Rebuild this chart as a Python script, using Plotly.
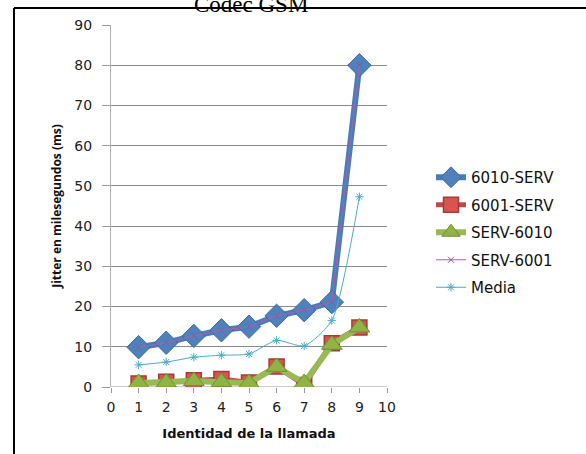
import plotly.graph_objects as go

# Call identifiers and jitter (ms) per direction
llamadas = [1, 2, 3, 4, 5, 6, 7, 8, 9]
s_6010_serv = [9.9, 11.0, 12.7, 14.1, 15.0, 17.7, 19.1, 21.1, 80.0]
s_6001_serv = [0.9, 1.3, 1.7, 2.0, 1.1, 5.1, 0.5, 10.9, 14.8]
s_serv_6010 = [1.0, 1.1, 1.5, 1.2, 1.0, 5.0, 1.0, 10.5, 14.8]
s_serv_6001 = [9.9, 11.0, 12.7, 14.1, 15.0, 17.7, 19.1, 21.1, 80.0]
s_media = [5.5, 6.2, 7.4, 7.9, 8.2, 11.6, 10.2, 16.5, 47.3]

x_ticks = list(range(0, 11))
y_ticks = list(range(0, 100, 10))

W, H = 586, 454
L, R, T, B = 111, 387, 25, 387  # plot area in pixels


def px(x):
    return (x - L) / (R - L)


def py(y):
    return (B - y) / (B - T)


fig = go.Figure()

fig.add_trace(go.Scatter(
    x=llamadas, y=s_6010_serv, name="6010-SERV", mode="lines+markers",
    line=dict(color="#4a7ebb", width=6),
    marker=dict(symbol="diamond", size=18, color="#4f81bd",
                line=dict(color="#3a6aa6", width=1)),
    legendgroup="a"))
fig.add_trace(go.Scatter(
    x=llamadas, y=s_6001_serv, name="6001-SERV", mode="lines+markers",
    line=dict(color="#be4b48", width=5),
    marker=dict(symbol="square", size=15, color="#d9534f",
                line=dict(color="#a33c39", width=1.5)),
    legendgroup="b"))
fig.add_trace(go.Scatter(
    x=llamadas, y=s_serv_6010, name="SERV-6010", mode="lines+markers",
    line=dict(color="#98b954", width=6),
    marker=dict(symbol="triangle-up", size=18, color="#8fb446",
                line=dict(color="#71902f", width=1)),
    legendgroup="c"))
fig.add_trace(go.Scatter(
    x=llamadas, y=s_serv_6001, name="SERV-6001", mode="lines+markers",
    line=dict(color="#b05fa8", width=1),
    marker=dict(symbol="x-thin-open", size=6, color="#7d60a0",
                line=dict(color="#7d60a0", width=1)),
    legendgroup="d"))
fig.add_trace(go.Scatter(
    x=llamadas, y=s_media, name="Media", mode="lines+markers",
    line=dict(color="#4bacc6", width=1, shape="spline", smoothing=0.6),
    marker=dict(symbol="asterisk-open", size=7, color="#4bacc6",
                line=dict(color="#4bacc6", width=1)),
    legendgroup="e"))

# Outer frame (top and left edges) and the title above it
fig.add_shape(type="line", xref="paper", yref="paper",
              x0=px(14), x1=px(W + 5), y0=py(8), y1=py(8),
              line=dict(color="black", width=2))
fig.add_shape(type="line", xref="paper", yref="paper",
              x0=px(14), x1=px(14), y0=py(8), y1=py(H + 5),
              line=dict(color="black", width=2))
fig.add_annotation(text="Códec GSM", xref="paper", yref="paper",
                   x=px(251), y=py(-10), showarrow=False,
                   font=dict(family="Liberation Serif", size=23, color="black"))

fig.update_layout(
    width=W, height=H,
    margin=dict(l=L, r=W - R, t=T, b=H - B),
    paper_bgcolor="white", plot_bgcolor="white",
    font=dict(family="DejaVu Sans", color="#222"),
    showlegend=True,
    legend=dict(x=px(431), y=py(161), xanchor="left", yanchor="top",
                font=dict(size=15, color="#111"),
                tracegroupgap=5, traceorder="grouped",
                bgcolor="rgba(0,0,0,0)"),
    xaxis=dict(range=[0, 10], tickvals=x_ticks, showgrid=False,
               zeroline=False, showline=False, ticks="outside",
               ticklen=5, tickcolor="#999", ticklabelstandoff=2,
               tickfont=dict(size=14, color="#222"),
               title=dict(text="<b>Identidad de la llamada</b>",
                          font=dict(size=13, color="#111"), standoff=15)),
    yaxis=dict(range=[0, 90], tickvals=y_ticks, showgrid=True,
               gridcolor="#8a8a8a", gridwidth=1.2, zeroline=False,
               showline=True, linecolor="#b0b0b0", linewidth=1,
               ticks="outside", ticklen=8, tickcolor="#999",
               ticklabelstandoff=7,
               tickfont=dict(size=14, color="#222"),
               title=dict(text="<b>Jitter en milesegundos (ms)</b>",
                          font=dict(family="Open Sans", size=12,
                                    color="#111"), standoff=10)),
)

# x axis baseline at y = 0
fig.add_shape(type="line", xref="paper", yref="y", x0=0, x1=1, y0=0, y1=0,
              line=dict(color="#9a9a9a", width=1), layer="below")

fig.write_html("out.html")
